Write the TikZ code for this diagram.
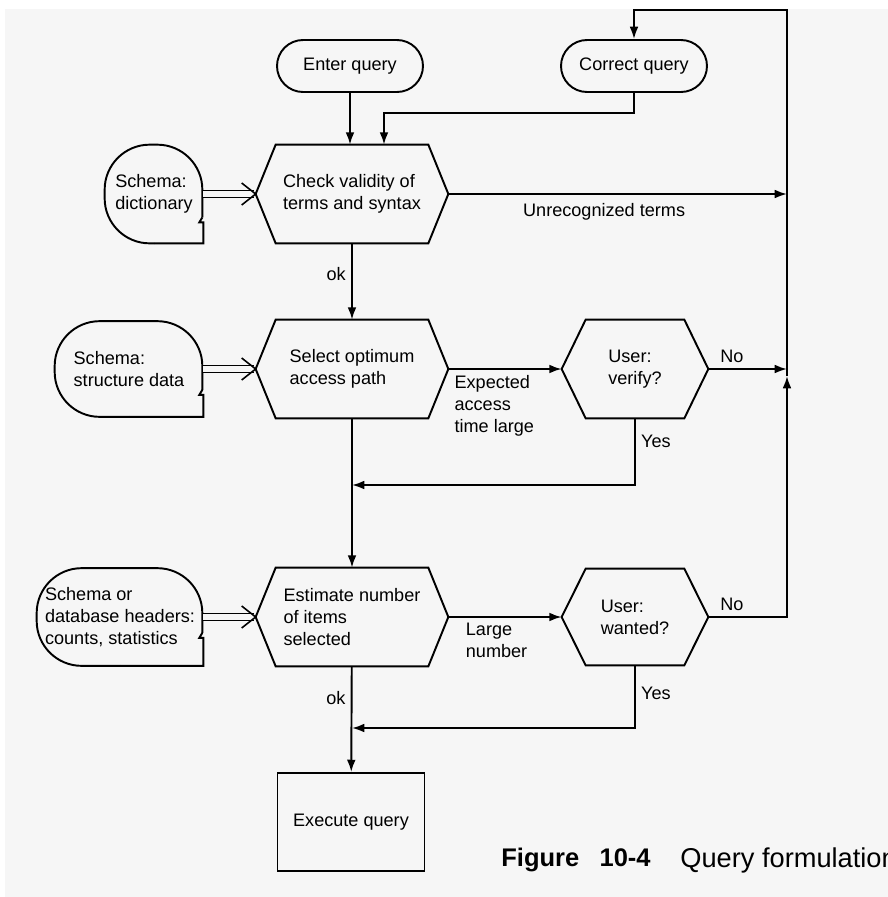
\documentclass[tikz,border=0pt]{standalone}
\usepackage{fontspec}
\setmainfont{Liberation Sans}
\usetikzlibrary{calc,arrows.meta,shapes.misc}

\definecolor{pagegray}{RGB}{246,246,246}

\tikzset{
  line/.style={line width=1.1pt},
  flow/.style={line, -{Latex[length=7pt,width=5pt]}},
  feed/.style={double=pagegray, double distance=3pt, line width=0.8pt, shorten >=1pt},
  txt/.style={font=\fontsize{10.3}{12.6}\selectfont, align=left},
  box/.style={txt, inner sep=0pt},
  term/.style={box, draw, line, rounded rectangle, minimum width=2.92cm, minimum height=1.04cm},
  hexa/.style={box, minimum width=#1, minimum height=1.96cm},
  store/.style={box},
  lbl/.style={txt, inner sep=3pt},
}

% outline of a process step
\newcommand{\hexline}[2]{%
  \draw[line] ($(#1.north west)+(#2,0)$) -- ($(#1.north east)+(-#2,0)$) -- (#1.east)
    -- ($(#1.south east)+(-#2,0)$) -- ($(#1.south west)+(#2,0)$) -- (#1.west) -- cycle;}

% outline of a stored data shape (round side, notch low on the right)
\newcommand{\storeline}[3]{%
  \draw[line] ($(#1.south east)+(-1,-#3-5)$) [rounded corners=#2*0.02cm]
    -- ($(#1.north east)+(-1,0)$) -- (#1.north west) -- (#1.south west) -- (#1.south);
  \draw[line] (#1.south) -- (#1.south east) -- ++(0,-#3) -- ++(-4,0) -- ++(3,-5);}

% double feed line from a store into a step
\newcommand{\feedline}[2]{%
  \draw[feed] (#1) -- (#2);
  \draw[line, line width=0.9pt] ($(#2.west)+(-14,-11)$) -- (#2.west) -- ($(#2.west)+(-14,11)$);}

\begin{document}
\begin{tikzpicture}[x=0.02cm, y=-0.02cm]
\useasboundingbox (0,0) rectangle (888,897);
\fill[pagegray] (5,9) rectangle (888,897);

% terminals
\node (enter) [term] at (350,66) {Enter query};
\node (correct) [term] at (634,66) {Correct query};

% steps
\node (check) [hexa=3.84cm] at (352,194) {Check validity of\\terms and syntax};
\node (select) [hexa=3.84cm] at (352,369) {Select optimum\\access path};
\node (estimate) [hexa=3.84cm] at (352,617) {Estimate number\\of items\\selected};
\node (verify) [hexa=2.92cm] at (635,369) {User:\\verify?};
\node (wanted) [hexa=2.92cm, minimum height=1.92cm] at (635,617) {User:\\wanted?};
\node (execute) [box, draw, line, minimum width=2.94cm, minimum height=1.96cm] at (351,822) {Execute query};

% stored data
\node (dict) [store, minimum width=1.96cm, minimum height=1.96cm] at (154,194) {Schema:\\dictionary};
\node (struct) [store, minimum width=2.96cm, minimum height=1.9cm] at (129,369) {Schema:\\structure data};
\node (heads) [store, minimum width=3.32cm, minimum height=1.94cm] at (120,617) {Schema or\\database headers:\\counts, statistics};

\hexline{check}{20}
\hexline{select}{20}
\hexline{estimate}{20}
\hexline{verify}{24}
\hexline{wanted}{24}
\storeline{dict}{45}{21}
\storeline{struct}{45}{22}
\storeline{heads}{45}{28}

\coordinate (railtop) at (787,10);
\coordinate (railup) at (787,376);
\coordinate (join1) at (352,485);
\coordinate (join2) at (352,728);

\feedline{dict}{check}
\feedline{struct}{select}
\feedline{heads}{estimate}

\draw[flow] (enter) -- (enter |- check.north);
\draw[flow] (correct.south) -- ++(0,20) -| ($(check.north)+(32,0)$);
\draw[flow] (check) -- node[lbl, left, pos=0.4] {ok} (select);
\draw[flow] (select) -- (estimate);
\draw[flow] (estimate) -- node[lbl, left, pos=0.3] {ok} (execute);
\draw[flow] (check) -- node[lbl, below, pos=0.46, yshift=-2pt] {Unrecognized terms} (check -| railtop);
\draw[flow] (select) -- node[lbl, below right, pos=0] {Expected\\access\\time large} (verify);
\draw[flow] (verify) -- node[lbl, above, pos=0.3] {No} (verify -| railtop);
\draw[flow] (verify.south) |- node[lbl, right, pos=0.17] {Yes} (join1);
\draw[flow] (estimate) -- node[lbl, below right, pos=0.1] {Large\\number} (wanted);
\draw[flow] (wanted.south) |- node[lbl, right, pos=0.22] {Yes} (join2);
\draw[flow] (wanted) -| node[lbl, above, pos=0.15] {No} (railup);
\draw[flow] (railup) -- (railtop) -| (correct.north);

% caption
\node (fignum) [anchor=west, inner sep=0pt, font=\fontsize{14.5}{16}\selectfont\bfseries] at (501,860) {Figure\hspace{0.8em}10-4};
\node (figtitle) [anchor=west, inner sep=0pt, font=\fontsize{15.5}{17}\selectfont] at (680,860) {Query formulation};
\end{tikzpicture}
\end{document}
